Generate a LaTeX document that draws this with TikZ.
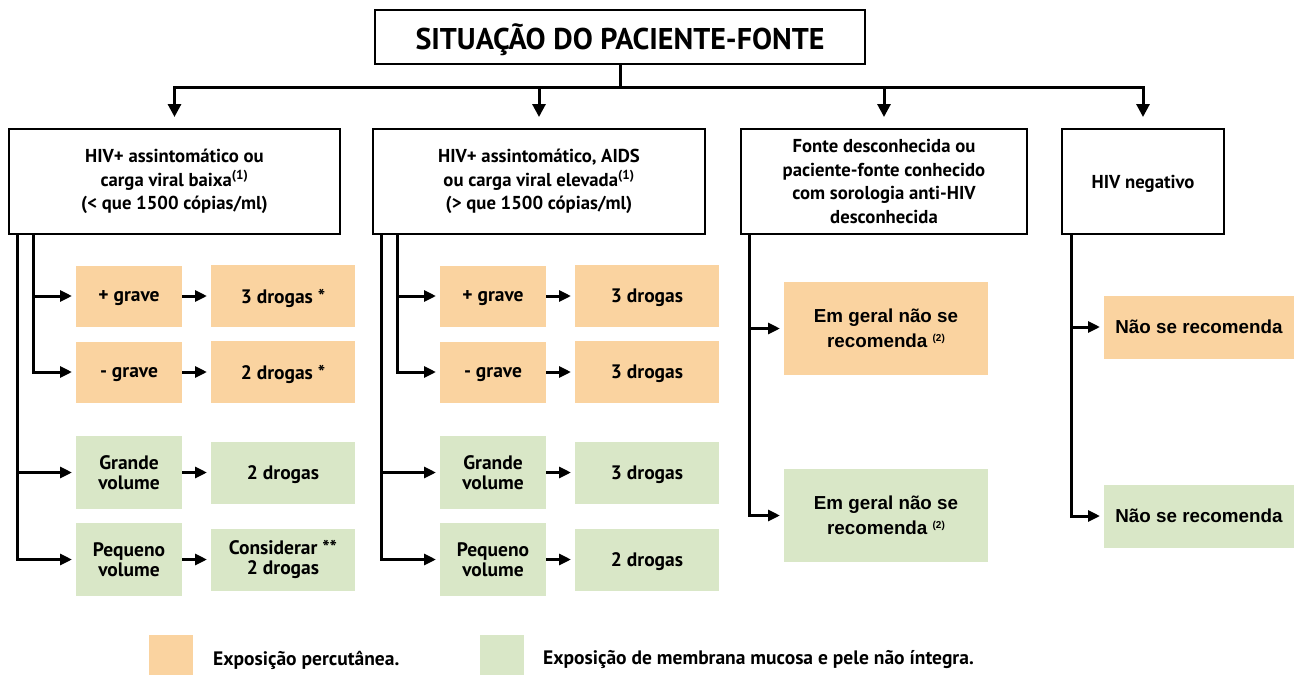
\documentclass[tikz,border=0pt]{standalone}
\usepackage{fontspec}
\setmainfont{PT Sans}
\newfontfamily\hv{Liberation Sans}
\usetikzlibrary{arrows.meta}
\definecolor{orng}{RGB}{250,211,160}
\definecolor{grn}{RGB}{217,231,199}
\begin{document}
\begin{tikzpicture}[x=1pt,y=-1pt,
 hdr/.style={draw=black, line width=1.5pt, fill=white, align=center, inner sep=0pt, outer sep=0pt,
   font=\bfseries\fontsize{18.7}{23.5}\selectfont},
 sub/.style={align=center, inner sep=0pt, outer sep=0pt, font=\bfseries\fontsize{19.5}{20.5}\selectfont},
 one/.style={text depth=0pt},
 ob/.style={sub, fill=orng},
 gb/.style={sub, fill=grn},
 hvs/.style={font=\hv\bfseries\fontsize{18.8}{24.5}\selectfont},
 ln/.style={line width=3pt},
 conn/.style={line width=3pt, -{Triangle[length=12pt,width=11pt]}, shorten >=4pt},
 down/.style={line width=3pt, -{Triangle[length=13pt,width=13pt]}, shorten >=12pt},
 leg/.style={font=\bfseries\fontsize{19.5}{22}\selectfont, anchor=west, inner sep=0pt}]
\useasboundingbox (0,0) rectangle (1299,675);

% title
\node[hdr, one, minimum width=490pt, minimum height=54pt, font=\bfseries\fontsize{30}{34}\selectfont] (title) at (620,37) {SITUAÇÃO DO PACIENTE-FONTE};

% headers
\node[hdr, minimum width=331pt, minimum height=105pt] (h1) at (174.5,181.5)
 {HIV+ assintomático ou\\carga viral baixa\textsuperscript{(1)}\\(< que 1500 cópias/ml)};
\node[hdr, minimum width=332pt, minimum height=105pt] (h2) at (539,181.5)
 {HIV+ assintomático, AIDS\\ou carga viral elevada\textsuperscript{(1)}\\(> que 1500 cópias/ml)};
\node[hdr, minimum width=286pt, minimum height=105pt] (h3) at (884,181.5)
 {Fonte desconhecida ou\\paciente-fonte conhecido\\com sorologia anti-HIV\\desconhecida};
\node[hdr, one, minimum width=162pt, minimum height=105pt] (h4) at (1143,181.5)
 {HIV negativo};

\coordinate (j) at (620,87);
\draw[ln] (title.south) -- (j);
\draw[down] (j) -| (h1.north);
\draw[down] (j) -| (h2.north);
\draw[down] (j) -| (h3.north);
\draw[down] (j) -| (h4.north);

% column 1
\node[ob, one, minimum width=106pt, minimum height=61pt] (a1) at (129,296) {+ grave};
\node[ob, one, minimum width=144pt, minimum height=62pt] (a2) at (283,296) {3 drogas *};
\node[ob, one, minimum width=106pt, minimum height=61pt] (b1) at (129,372) {- grave};
\node[ob, one, minimum width=144pt, minimum height=62pt] (b2) at (283,372) {2 drogas *};
\node[gb, minimum width=106pt, minimum height=73pt] (c1) at (129,472.5) {Grande\\volume};
\node[gb, one, minimum width=144pt, minimum height=62pt] (c2) at (283,472.5) {2 drogas};
\node[gb, minimum width=106pt, minimum height=73pt] (d1) at (129,559.5) {Pequeno\\volume};
\node[gb, minimum width=144pt, minimum height=62pt] (d2) at (283,559.5) {Considerar **\\2 drogas};

\draw[conn] ([xshift=24pt]h1.south west) |- (a1.west);
\draw[conn] ([xshift=24pt]h1.south west) |- (b1.west);
\draw[conn] ([xshift=8pt]h1.south west) |- (c1.west);
\draw[conn] ([xshift=8pt]h1.south west) |- (d1.west);
\draw[conn] (a1) -- (a2);
\draw[conn] (b1) -- (b2);
\draw[conn] (c1) -- (c2);
\draw[conn] (d1) -- (d2);

% column 2
\node[ob, one, minimum width=106pt, minimum height=61pt] (a3) at (493,296) {+ grave};
\node[ob, one, minimum width=144pt, minimum height=62pt] (a4) at (647,296) {3 drogas};
\node[ob, one, minimum width=106pt, minimum height=61pt] (b3) at (493,372) {- grave};
\node[ob, one, minimum width=144pt, minimum height=62pt] (b4) at (647,372) {3 drogas};
\node[gb, minimum width=106pt, minimum height=73pt] (c3) at (493,472.5) {Grande\\volume};
\node[gb, one, minimum width=144pt, minimum height=62pt] (c4) at (647,472.5) {3 drogas};
\node[gb, minimum width=106pt, minimum height=73pt] (d3) at (493,559.5) {Pequeno\\volume};
\node[gb, one, minimum width=144pt, minimum height=62pt] (d4) at (647,559.5) {2 drogas};

\draw[conn] ([xshift=24pt]h2.south west) |- (a3.west);
\draw[conn] ([xshift=24pt]h2.south west) |- (b3.west);
\draw[conn] ([xshift=8pt]h2.south west) |- (c3.west);
\draw[conn] ([xshift=8pt]h2.south west) |- (d3.west);
\draw[conn] (a3) -- (a4);
\draw[conn] (b3) -- (b4);
\draw[conn] (c3) -- (c4);
\draw[conn] (d3) -- (d4);

% column 3
\node[ob, hvs, minimum width=204pt, minimum height=93pt] (e1) at (886,328.5)
 {Em geral não se\\recomenda {\fontsize{10}{10}\selectfont\raisebox{0.6em}{(2)}}};
\node[gb, hvs, minimum width=204pt, minimum height=93pt] (e2) at (886,515.5)
 {Em geral não se\\recomenda {\fontsize{10}{10}\selectfont\raisebox{0.6em}{(2)}}};
\draw[conn] ([xshift=8pt]h3.south west) |- (e1.west);
\draw[conn] ([xshift=8pt]h3.south west) |- (e2.west);

% column 4
\node[ob, hvs, minimum width=190pt, minimum height=63pt] (f1) at (1199,327) {Não se recomenda};
\node[gb, hvs, minimum width=190pt, minimum height=63pt] (f2) at (1199,516) {Não se recomenda};
\draw[conn] ([xshift=9pt]h4.south west) |- (f1.west);
\draw[conn] ([xshift=9pt]h4.south west) |- (f2.west);

% legend
\node[fill=orng, minimum width=44pt, minimum height=40pt, inner sep=0pt] (lo) at (171,655) {};
\node[leg] (lot) at (213,660) {Exposição percutânea.};
\node[fill=grn, minimum width=44pt, minimum height=40pt, inner sep=0pt] (lg) at (502,655) {};
\node[leg] (lgt) at (543,660) {Exposição de membrana mucosa e pele não íntegra.};
\end{tikzpicture}
\end{document}
